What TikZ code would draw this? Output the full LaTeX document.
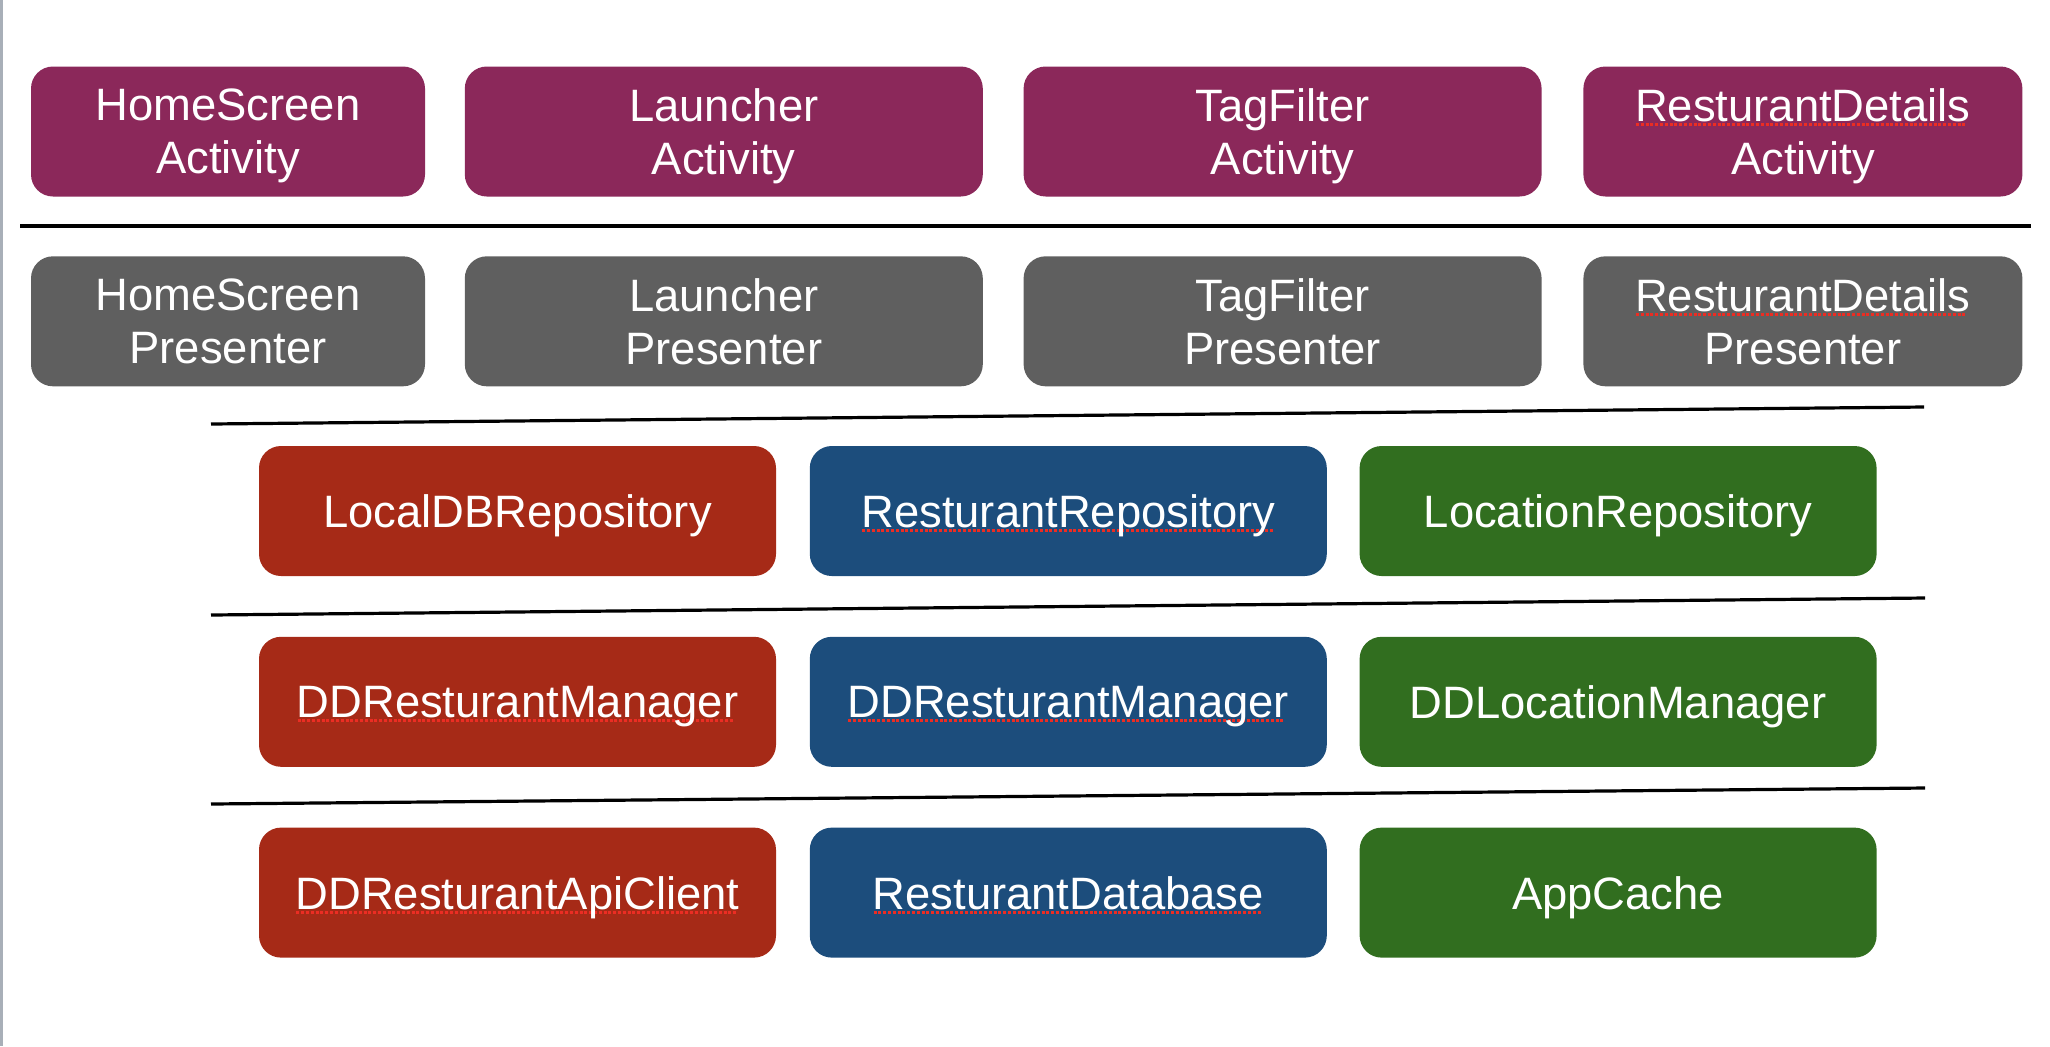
\documentclass[tikz,border=0pt]{standalone}
\usepackage{fontspec}
\setmainfont{Liberation Sans}
\usepackage{tikz}
\usetikzlibrary{positioning}
\definecolor{actpurple}{RGB}{139,40,90}
\definecolor{presgray}{RGB}{95,95,95}
\definecolor{repored}{RGB}{166,42,23}
\definecolor{repoblue}{RGB}{28,77,124}
\definecolor{repogreen}{RGB}{49,110,31}
\definecolor{typored}{RGB}{235,45,35}
\definecolor{edgegray}{RGB}{168,175,184}
\tikzstyle{block}=[rectangle,rounded corners=11pt,text=white,align=center,inner sep=0pt,text depth=0pt,minimum height=65pt,font=\fontsize{22.7}{26.5}\selectfont]
\tikzstyle{activity}=[block,fill=actpurple]
\tikzstyle{presenter}=[block,fill=presgray]
\tikzstyle{localbox}=[block,fill=repored,minimum width=258.5pt]
\tikzstyle{restbox}=[block,fill=repoblue,minimum width=258.5pt]
\tikzstyle{locbox}=[block,fill=repogreen,minimum width=258.5pt]
\tikzstyle{divider}=[line width=1.6pt]
\newsavebox{\typobox}
\newcommand{\typo}[1]{\sbox{\typobox}{#1}\rlap{\color{typored}\raisebox{-2.3pt}{\leaders\hbox to 2.4pt{\hfil\rule{1.5pt}{1.3pt}\hfil}\hskip\wd\typobox}}\usebox{\typobox}}

\begin{document}
\begin{tikzpicture}[x=0.5pt,y=-0.5pt]
\useasboundingbox (0,0) rectangle (2050,1046);
\draw [edgegray,line width=1.5pt] (1.5,0) -- (1.5,1046);
% activities
\node [activity,minimum width=197pt] (homeAct) at (228,131.5) {HomeScreen\\Activity};
\node [activity,minimum width=259pt,right=19.5pt of homeAct] (launchAct) {Launcher\\Activity};
\node [activity,minimum width=259pt,right=20pt of launchAct] (tagAct) {TagFilter\\Activity};
\node [activity,minimum width=219.5pt,right=20.5pt of tagAct] (detailsAct) {\typo{ResturantDetails}\\Activity};
% presenters
\node [presenter,minimum width=197pt,below=29.5pt of homeAct] (homePres) {HomeScreen\\Presenter};
\node [presenter,minimum width=259pt,below=29.5pt of launchAct] (launchPres) {Launcher\\Presenter};
\node [presenter,minimum width=259pt,below=29.5pt of tagAct] (tagPres) {TagFilter\\Presenter};
\node [presenter,minimum width=219.5pt,below=29.5pt of detailsAct] (detailsPres) {\typo{ResturantDetails}\\Presenter};
% repositories
\node [localbox] (localRepo) at (517.5,511) {LocalDBRepository};
\node [restbox,right=16.5pt of localRepo] (restRepo) {\typo{ResturantRepository}};
\node [locbox,right=16pt of restRepo] (locRepo) {LocationRepository};
% managers
\node [localbox,below=30pt of localRepo] (localMgr) {\typo{DDResturantManager}};
\node [restbox,below=30pt of restRepo] (restMgr) {\typo{DDResturantManager}};
\node [locbox,below=30pt of locRepo] (locMgr) {DDLocationManager};
% sources
\node [localbox,below=30pt of localMgr] (apiClient) {\typo{DDResturantApiClient}};
\node [restbox,below=30pt of restMgr] (restDb) {\typo{ResturantDatabase}};
\node [locbox,below=30pt of locMgr] (appCache) {AppCache};
% layer lines
\draw [divider] (20,226) -- (2031,226);
\draw [divider] (211,424) -- (1924,407);
\draw [divider] (211,615) -- (1925,598);
\draw [divider] (211,804) -- (1925,788);
\end{tikzpicture}
\end{document}
